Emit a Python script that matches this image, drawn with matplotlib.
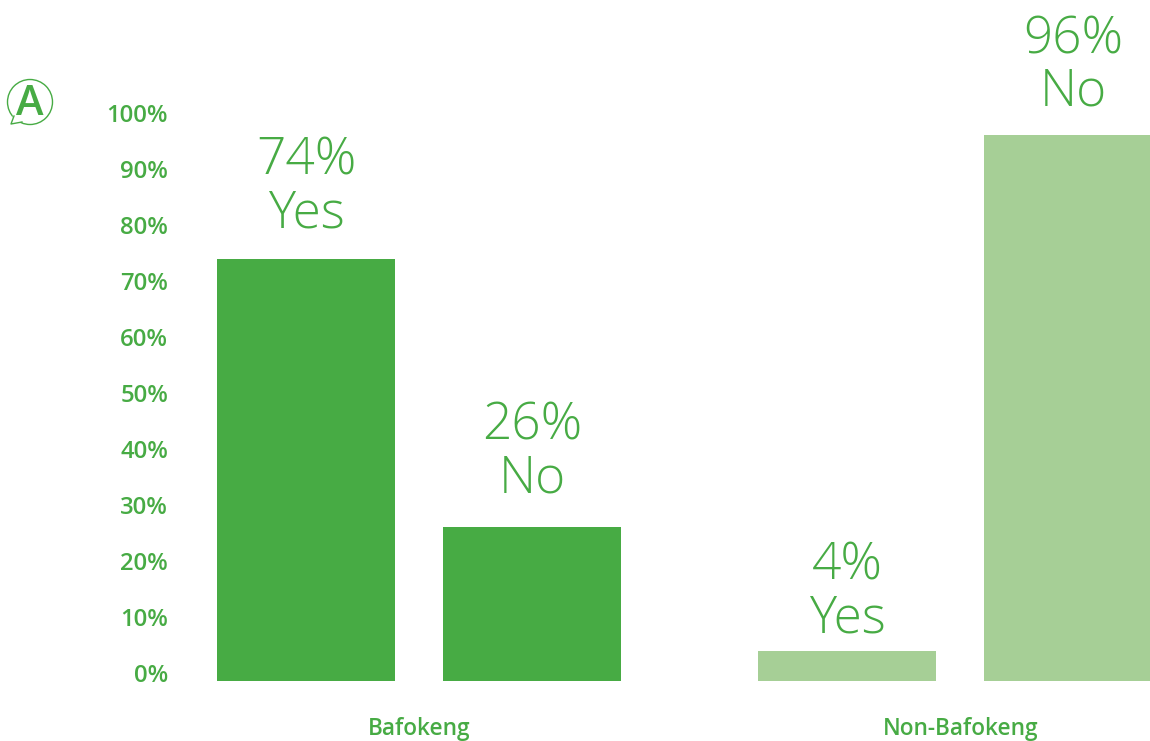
import matplotlib.pyplot as plt
from matplotlib.patches import Ellipse, Polygon

groups = ['Bafokeng', 'Non-Bafokeng']
answers = ['Yes', 'No', 'Yes', 'No']
values = [74, 26, 4, 96]
ticks = list(range(0, 101, 10))

dark = '#47AB44'
light = '#A6CF96'
colors = [dark, dark, light, light]
bar_left = [217, 443, 758, 984]
bar_w = 178

# x axis runs in pixels, y axis in percent (5.6 px per percent, zero at y=673)
px = 5.6
zero_y = 673
fig = plt.figure(figsize=(11.5, 7.41), dpi=100)
ax = fig.add_axes([0, 0, 1, 1])
ax.set_xlim(0, 1150)
ax.set_ylim(-(741 - zero_y) / px, zero_y / px)
ax.axis('off')


def row(y):
    # pixel row from the top of the figure to percent
    return (zero_y - y) / px


# bars hang a little below the zero tick
base = -8 / px
answer_y = [79.5, 32.3, 7.3, 101.25]
line_gap = 53 / px

for x, v, c, a, ay in zip(bar_left, values, colors, answers, answer_y):
    ax.bar(x, v - base, bottom=base, width=bar_w, align='edge', color=c)
    cx = x + bar_w / 2
    ax.text(cx, ay + line_gap, f'{v}%', ha='center', va='baseline', color=dark,
            fontsize=37, family='Open Sans', weight=300)
    ax.text(cx, ay, a, ha='center', va='baseline', color=dark,
            fontsize=37, family='Open Sans', weight=300)

for t in ticks:
    ax.text(168, t - 0.05, f'{t}%', ha='right', va='center_baseline', color=dark,
            fontsize=17.2, family='Open Sans', weight=600)

for gx, name in zip([419, 961], groups):
    ax.text(gx, row(735), name, ha='center', va='baseline', color=dark,
            fontsize=16.3, family='Open Sans', weight=600)

# speech bubble logo
ax.add_patch(Ellipse((30, row(102)), 45, 45 / px, fill=False, edgecolor=dark,
                     linewidth=1.0, zorder=3))
# white wedge opens the circle where the tail joins it
ax.add_patch(Polygon([(13, row(115)), (11, row(124)), (22, row(122))], closed=True,
                     facecolor='white', edgecolor='none', zorder=4))
ax.plot([14, 11, 22], [row(116), row(124), row(122)], color=dark, linewidth=1.0, zorder=5)
ax.text(30, row(115), 'A', ha='center', va='baseline', color=dark,
        fontsize=30, family='Open Sans', weight=600, zorder=5)

fig.savefig('out.png', dpi=100)
